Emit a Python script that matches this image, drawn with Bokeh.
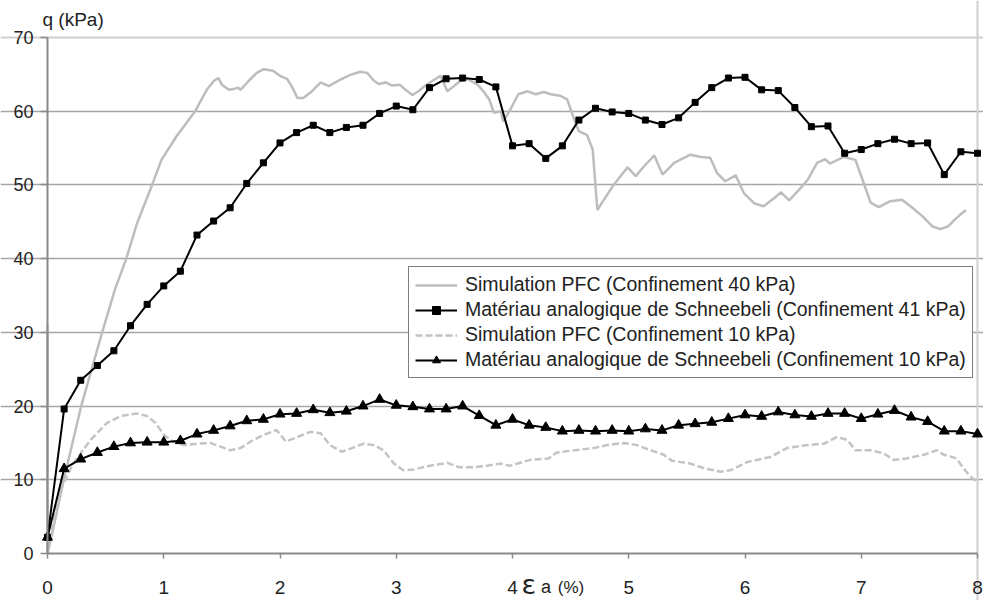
from bokeh.plotting import figure
from bokeh.models import Range1d, FixedTicker, Label, Legend, LegendItem, Grid
from bokeh.embed import file_html
from bokeh.resources import INLINE

# ---------------- data ----------------
# Simulation PFC (Confinement 40 kPa)
pfc40_x = [0.0, 0.0, 0.04, 0.14, 0.29, 0.47, 0.58, 0.68, 0.77, 0.90, 0.98, 1.11, 1.27, 1.37,
           1.43, 1.47, 1.50, 1.56, 1.60, 1.64, 1.66, 1.73, 1.80, 1.86, 1.94, 2.00, 2.06, 2.10,
           2.15, 2.20, 2.26, 2.35, 2.42, 2.52, 2.60, 2.69, 2.75, 2.81, 2.85, 2.91, 2.96, 3.03,
           3.08, 3.14, 3.19, 3.26, 3.34, 3.38, 3.44, 3.48, 3.55, 3.61, 3.70, 3.75, 3.80, 3.84,
           3.90, 3.92, 3.98, 4.05, 4.13, 4.20, 4.27, 4.33, 4.41, 4.47, 4.51, 4.57, 4.64, 4.69,
           4.73, 4.77, 4.87, 4.99, 5.06, 5.13, 5.22, 5.29, 5.39, 5.53, 5.62, 5.70, 5.76, 5.83,
           5.92, 5.99, 6.08, 6.16, 6.25, 6.31, 6.38, 6.48, 6.54, 6.62, 6.69, 6.73, 6.85, 6.95,
           7.02, 7.08, 7.15, 7.25, 7.35, 7.44, 7.53, 7.61, 7.68, 7.75, 7.81, 7.90]
pfc40_q = [31.0, 0.0, 2.7, 10.0, 20.0, 30.0, 35.8, 40.1, 44.8, 50.0, 53.4, 56.6, 60.0, 62.9,
           64.1, 64.5, 63.6, 62.9, 63.0, 63.2, 62.9, 64.1, 65.2, 65.7, 65.5, 64.8, 64.4, 63.4,
           61.8, 61.8, 62.5, 63.9, 63.4, 64.3, 64.9, 65.35, 65.2, 64.1, 63.7, 63.9, 63.5, 63.6,
           62.9, 62.2, 62.7, 63.6, 64.4, 64.8, 62.7, 63.2, 64.1, 64.4, 63.6, 62.7, 61.6, 59.8,
           60.0, 58.6, 60.2, 62.3, 62.7, 62.3, 62.6, 62.3, 62.1, 61.6, 59.8, 57.3, 56.8, 54.8,
           46.6, 47.6, 50.0, 52.4, 51.2, 52.5, 54.0, 51.4, 53.0, 54.1, 53.8, 53.7, 51.6, 50.5,
           51.3, 48.9, 47.5, 47.1, 48.2, 49.0, 47.9, 49.6, 50.7, 53.0, 53.5, 52.9, 53.8, 53.4,
           50.3, 47.6, 47.0, 47.8, 48.0, 46.9, 45.7, 44.4, 44.0, 44.4, 45.4, 46.6]

# Simulation PFC (Confinement 10 kPa)
pfc10_x = [0.0, 0.11, 0.22, 0.37, 0.51, 0.63, 0.77, 0.855, 0.93, 1.00, 1.08, 1.17, 1.29, 1.40,
           1.49, 1.57, 1.66, 1.77, 1.86, 1.97, 2.05, 2.15, 2.26, 2.35, 2.43, 2.53, 2.62, 2.72,
           2.81, 2.89, 2.98, 3.06, 3.15, 3.29, 3.44, 3.54, 3.67, 3.78, 3.90, 3.98, 4.15, 4.31,
           4.38, 4.53, 4.70, 4.81, 4.96, 5.07, 5.19, 5.30, 5.37, 5.53, 5.65, 5.79, 5.875, 6.02,
           6.22, 6.36, 6.53, 6.68, 6.79, 6.88, 6.95, 7.08, 7.19, 7.28, 7.39, 7.54, 7.65, 7.71,
           7.82, 7.88, 7.94, 8.00]
pfc10_q = [0.5, 8.6, 12.2, 15.4, 17.7, 18.65, 19.0, 18.65, 17.7, 16.1, 15.2, 14.7, 14.9, 15.0,
           14.5, 14.0, 14.3, 15.4, 16.1, 16.75, 15.2, 15.8, 16.5, 16.3, 14.7, 13.8, 14.3, 14.9,
           14.7, 14.0, 12.2, 11.3, 11.4, 11.9, 12.3, 11.7, 11.7, 11.9, 12.2, 11.9, 12.7, 12.9,
           13.7, 14.0, 14.3, 14.7, 15.0, 14.7, 14.0, 13.4, 12.6, 12.2, 11.55, 11.1, 11.3, 12.4,
           13.1, 14.3, 14.7, 14.9, 15.8, 15.4, 14.0, 14.0, 13.6, 12.7, 12.9, 13.4, 14.0, 13.4,
           12.9, 11.55, 10.4, 9.7]

# Matériau analogique de Schneebeli (both confinements, same strain steps)
exp_x = [0.0, 0.143, 0.286, 0.429, 0.571, 0.714, 0.857, 1.0, 1.143, 1.286, 1.429, 1.571,
         1.714, 1.857, 2.0, 2.143, 2.286, 2.429, 2.571, 2.714, 2.857, 3.0, 3.143, 3.286,
         3.429, 3.571, 3.714, 3.857, 4.0, 4.143, 4.286, 4.429, 4.571, 4.714, 4.857, 5.0,
         5.143, 5.286, 5.429, 5.571, 5.714, 5.857, 6.0, 6.143, 6.286, 6.429, 6.571, 6.714,
         6.857, 7.0, 7.143, 7.286, 7.429, 7.571, 7.714, 7.857, 8.0]
exp41_q = [2.2, 19.6, 23.5, 25.5, 27.5, 30.9, 33.8, 36.3, 38.3, 43.2, 45.1, 46.9, 50.2, 53.0,
           55.7, 57.1, 58.1, 57.1, 57.8, 58.1, 59.7, 60.7, 60.2, 63.2, 64.4, 64.5, 64.3, 63.3,
           55.3, 55.6, 53.6, 55.3, 58.8, 60.4, 59.9, 59.7, 58.8, 58.2, 59.1, 61.2, 63.2, 64.5,
           64.6, 62.9, 62.8, 60.5, 57.9, 58.0, 54.3, 54.8, 55.6, 56.2, 55.6, 55.7, 51.4, 54.5,
           54.3]
exp10_q = [2.2, 11.5, 12.8, 13.7, 14.5, 15.0, 15.1, 15.1, 15.3, 16.2, 16.7, 17.3, 18.0, 18.2,
           18.9, 19.0, 19.5, 19.1, 19.3, 20.0, 20.9, 20.1, 19.9, 19.6, 19.6, 20.0, 18.7, 17.4,
           18.2, 17.4, 17.1, 16.6, 16.7, 16.6, 16.7, 16.6, 16.9, 16.7, 17.4, 17.6, 17.8, 18.3,
           18.8, 18.6, 19.2, 18.8, 18.6, 19.0, 19.0, 18.3, 18.9, 19.4, 18.5, 17.9, 16.6, 16.6,
           16.2]

x_ticks = [0, 1, 2, 3, 4, 5, 6, 7, 8]
y_ticks = [0, 10, 20, 30, 40, 50, 60, 70]
inner_grid = [10, 20, 30, 40, 50, 60]
top_edge = [70]
right_edge = [8]
series_labels = ["Simulation PFC (Confinement 40 kPa)",
                 "Matériau analogique de Schneebeli (Confinement 41 kPa)",
                 "Simulation PFC (Confinement 10 kPa)",
                 "Matériau analogique de Schneebeli (Confinement 10 kPa)"]

FONT = "Liberation Sans"
GRAY = "#bdbdbd"
TXT = "#222222"

W, H = 983, 600
# frame covers the whole canvas; axes are fixed at data 0
p = figure(width=W, height=H, output_backend="svg", toolbar_location=None,
           x_range=Range1d(-0.4043, 8.0516), y_range=Range1d(-6.376, 75.02),
           min_border_left=0, min_border_right=0, min_border_top=0, min_border_bottom=0)
p.background_fill_color = "white"
p.border_fill_color = "white"
p.outline_line_color = None

p.xgrid.grid_line_color = None
p.ygrid.ticker = FixedTicker(ticks=inner_grid)
p.ygrid.grid_line_color = "#a6a6a6"
p.ygrid.grid_line_width = 1.5
p.ygrid.bounds = (0, 8)
p.add_layout(Grid(dimension=1, ticker=FixedTicker(ticks=top_edge), bounds=(0, 8),
                  grid_line_color="#cfcfcf", grid_line_width=2))
p.add_layout(Grid(dimension=0, ticker=FixedTicker(ticks=right_edge), bounds=(0, 70),
                  grid_line_color="#cfcfcf", grid_line_width=2))

p.xaxis.ticker = FixedTicker(ticks=x_ticks)
p.yaxis.ticker = FixedTicker(ticks=y_ticks)
p.xaxis.fixed_location = 0
p.yaxis.fixed_location = 0
p.xaxis.bounds = (0, 8)
p.yaxis.bounds = (0, 70)
for ax in (p.xaxis, p.yaxis):
    ax.axis_line_color = "#8a8a8a"
    ax.axis_line_width = 2
    ax.major_tick_line_color = "#8a8a8a"
    ax.major_tick_line_width = 1.5
    ax.minor_tick_line_color = None
    ax.major_tick_in = 0
    ax.major_label_text_font = FONT
    ax.major_label_text_color = TXT
p.yaxis.major_tick_out = 7
p.xaxis.major_tick_out = 5
p.yaxis.major_label_text_font_size = "18px"
p.xaxis.major_label_text_font_size = "19px"
p.yaxis.major_label_standoff = 7
p.xaxis.major_label_standoff = 22

r1 = p.line(pfc40_x, pfc40_q, line_color=GRAY, line_width=2.5)
r3 = p.line(pfc10_x, pfc10_q, line_color="#c4c4c4", line_width=2.5, line_dash="7 3")
r2l = p.line(exp_x, exp41_q, line_color="black", line_width=2)
r2m = p.scatter(exp_x, exp41_q, marker="square", size=6, fill_color="black", line_color="black")
r4l = p.line(exp_x, exp10_q, line_color="black", line_width=2)
r4m = p.scatter(exp_x, exp10_q, marker="triangle", size=10, fill_color="black", line_color="black")

legend = Legend(items=[LegendItem(label=series_labels[0], renderers=[r1]),
                       LegendItem(label=series_labels[1], renderers=[r2l, r2m]),
                       LegendItem(label=series_labels[2], renderers=[r3]),
                       LegendItem(label=series_labels[3], renderers=[r4l, r4m])],
                location=(408, 222))
legend.label_text_font = FONT
legend.label_text_font_size = "19.5px"
legend.label_text_color = TXT
legend.border_line_color = "black"
legend.border_line_width = 1
legend.background_fill_color = "white"
legend.background_fill_alpha = 1
legend.padding = 6
legend.margin = 0
legend.spacing = 2
legend.glyph_width = 42
legend.glyph_height = 20
legend.label_height = 20
legend.label_standoff = 8
p.add_layout(legend, "center")

# axis titles
p.add_layout(Label(x=-0.043, y=72.5, text="q (kPa)", text_font=FONT, text_font_size="19px",
                   text_color=TXT, text_baseline="middle", text_align="left"))
p.add_layout(Label(x=4.077, y=-4.2, text="ε", text_font="DejaVu Sans", text_font_size="27px",
                   text_color=TXT, text_baseline="middle", text_align="left"))
p.add_layout(Label(x=4.245, y=-4.6, text="a", text_font=FONT, text_font_size="18px",
                   text_color=TXT, text_baseline="middle", text_align="left"))
p.add_layout(Label(x=4.39, y=-4.6, text="(%)", text_font=FONT, text_font_size="17px",
                   text_color=TXT, text_baseline="middle", text_align="left"))

open("out.html", "w").write(file_html(p, INLINE))
